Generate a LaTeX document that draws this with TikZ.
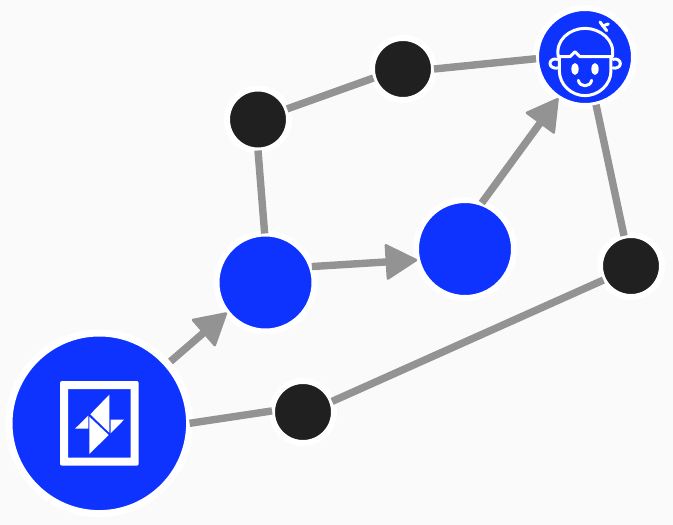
\documentclass[tikz,border=0pt]{standalone}
\usetikzlibrary{arrows.meta}
\definecolor{pagebg}{HTML}{FAFAFA}
\definecolor{edgegrey}{HTML}{939393}
\definecolor{hubblue}{HTML}{0F33FF}
\definecolor{dotblack}{HTML}{202020}
\tikzset{
  bluebig/.style={circle,fill=hubblue,draw=white,line width=7pt,inner sep=0pt,outer sep=0pt,minimum size=180.6pt},
  bluemid/.style={circle,fill=hubblue,draw=white,line width=6pt,inner sep=0pt,outer sep=0pt,minimum size=98pt},
  blackdot/.style={circle,fill=dotblack,draw=white,line width=6pt,inner sep=0pt,outer sep=0pt,minimum size=62pt},
  link/.style={draw=edgegrey,line width=7.4pt},
  arrowlink/.style={link,-{Triangle[length=33pt,width=37pt,round,line width=2.5pt]}},
  iconline/.style={draw=white,line width=3pt,line cap=round,line join=round},
}
\begin{document}
\begin{tikzpicture}[x=1pt,y=-1pt]
\path[fill=pagebg] (0,0) rectangle (673,525);
\useasboundingbox (0,0) rectangle (673,525);
\node[bluebig] (hub) at (99.3,423.3) {};
\node[bluemid] (left) at (265.5,282.5) {};
\node[bluemid] (mid) at (465,249) {};
\node[bluemid] (face) at (585,57) {};
\node[blackdot] (dota) at (258,119.5) {};
\node[blackdot] (dotb) at (403,69) {};
\node[blackdot] (dotc) at (631,266) {};
\node[blackdot] (dotd) at (303,412) {};
% connectors
\draw[arrowlink,shorten <=4pt] (hub.41) -- (left.218);
\draw[link] (hub.0) -- (dotd.178);
\draw[link] (dotd.20) -- (dotc.207);
\draw[link] (left.91) -- (dota.270);
\draw[link] (dota.20) -- (dotb.197);
\draw[link] (dotb.0) -- (face.182);
\draw[arrowlink] (left.19.5) -- (mid.193);
\draw[arrowlink] (mid.70) -- (face.237);
\draw[link] (face.283) -- (dotc.103);
% hub logo
\fill[white,even odd rule] [rounded corners=2pt] (60,381) rectangle (138.7,465.7)
   [sharp corners] (68,389) rectangle (130.7,457.7);
\fill[white] (109.3,394.7) -- (109.3,432.7) -- (90.3,414.3) -- cycle;
\fill[white] (110.7,419.7) -- (124,419.7) -- (110.7,433.3) -- cycle;
\fill[white] (75,428.7) -- (88.3,428.7) -- (88.3,415.7) -- cycle;
\fill[white] (89.3,416.7) -- (108.7,435) -- (89.3,454) -- cycle;
% face icon
\begin{scope}[shift={(525,0)},x=0.3333pt,y=-0.3333pt]
  \draw[iconline] (100,170) .. controls (90,120) and (135,85) .. (180,85)
     .. controls (225,85) and (272,120) .. (262,170);
  \draw[iconline] (100,170) -- (135,170) -- (150,155) -- (165,170) -- (262,170);
  \draw[iconline] (103,172) -- (103,212) .. controls (103,255) and (140,287) .. (180,287)
     .. controls (220,287) and (258,255) .. (258,212) -- (258,172);
  \draw[iconline] (98,178) .. controls (82,174) and (75,183) .. (75,191) .. controls (75,200) and (85,206) .. (98,204);
  \draw[iconline] (264,178) .. controls (278,174) and (286,183) .. (286,191) .. controls (286,200) and (276,206) .. (264,204);
  \fill[white] (150,207) ellipse [x radius=11,y radius=18];
  \fill[white] (210,207) ellipse [x radius=11,y radius=18];
  \draw[iconline] (160,241) .. controls (165,263) and (195,263) .. (200,241);
  \draw[iconline] (245,92) -- (225,66);
  \draw[iconline] (233,78) -- (250,72);
\end{scope}
\end{tikzpicture}
\end{document}
